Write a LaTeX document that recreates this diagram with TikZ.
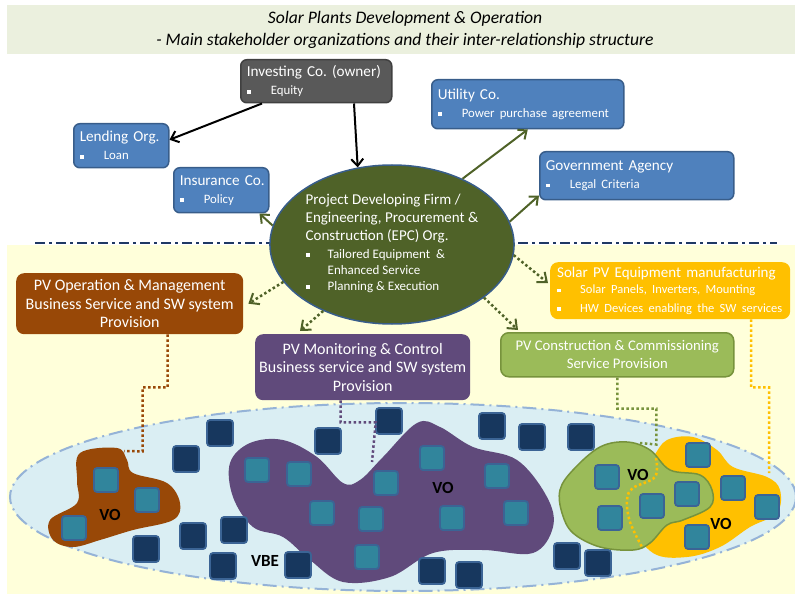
\documentclass[tikz,border=0pt]{standalone}
\usepackage{fontspec}
\setmainfont{Carlito}
\usetikzlibrary{arrows.meta,shapes.geometric,positioning}
\definecolor{bannerbg}{HTML}{EBF0DE}
\definecolor{lowbg}{HTML}{FFFFDA}
\definecolor{vbebg}{HTML}{DAEEF3}
\definecolor{vbeline}{HTML}{95B3D7}
\definecolor{boxblue}{HTML}{4F81BD}
\definecolor{boxline}{HTML}{385D8A}
\definecolor{ownergray}{HTML}{595959}
\definecolor{ownerline}{HTML}{404040}
\definecolor{epcgreen}{HTML}{4F6228}
\definecolor{ombrown}{HTML}{984807}
\definecolor{monpurple}{HTML}{604A7B}
\definecolor{mfgold}{HTML}{FFC000}
\definecolor{conslime}{HTML}{9BBB59}
\definecolor{consline}{HTML}{77933C}
\definecolor{memteal}{HTML}{31859C}
\definecolor{memnavy}{HTML}{17375E}
\definecolor{memline}{HTML}{3B6495}
\definecolor{sepblue}{HTML}{1F3864}
\frenchspacing
\newcommand{\sqb}{\rule[0.2ex]{0.3em}{0.3em}}
\newcommand{\bitem}[2][24pt]{\makebox[#1][l]{\sqb}#2}
\newcommand{\bulletfont}{\fontsize{12.8}{15}\selectfont}
\tikzset{
  orgbox/.style={draw=boxline, fill=boxblue, rounded corners=6pt, line width=1.5pt,
    text=white, align=left, anchor=north west, inner xsep=6pt, inner ysep=2pt,
    font=\fontsize{15.2}{18}\selectfont},
  svcbox/.style={rounded corners=8pt, text=white, align=center, anchor=north west,
    inner xsep=4pt, inner ysep=2pt, font=\fontsize{16}{18.5}\selectfont},
  solidarrow/.style={line width=2pt, -{Straight Barb[length=7pt,width=12pt,line width=2pt]}},
  dotarrow/.style={line width=2.5pt, epcgreen, dash pattern=on 2.5pt off 2.5pt,
    -{Straight Barb[length=8pt,width=13pt,line width=2pt]}},
  dotlink/.style={line width=2.5pt, dash pattern=on 2.5pt off 2.5pt},
  member/.style={draw=memline, line width=1.8pt, rounded corners=3pt, minimum size=24pt, inner sep=0pt},
  tealsq/.style={member, fill=memteal},
  navysq/.style={member, fill=memnavy, minimum size=26pt},
  volabel/.style={font=\fontsize{17}{17}\selectfont\bfseries}
}
\begin{document}
\begin{tikzpicture}[x=1pt,y=-1pt]
\useasboundingbox (0,0) rectangle (795,596);
%backgrounds
\fill[lowbg] (7,245) rectangle (795,594);
\fill[bannerbg] (7,5) rectangle (795,54);
\node[align=center, font=\fontsize{17.6}{22.5}\selectfont\itshape] (title) at (405,30)
  {Solar Plants Development \& Operation\\- Main stakeholder organizations and their inter-relationship structure};
\draw[sepblue, line width=2.5pt, dash pattern=on 10pt off 4pt on 3pt off 4pt] (35,243) -- (777,243);

%VBE and the VOs
\draw[vbeline, fill=vbebg, line width=2pt, dash pattern=on 14pt off 5pt on 2pt off 5pt] (403,497) ellipse [x radius=393, y radius=94];
\fill[mfgold] plot[smooth cycle, tension=0.6] coordinates {(653,457) (667,440) (693,437) (717,450) (733,467) (767,477) (780,490) (777,513) (750,527) (720,547) (687,557) (653,553) (630,520) (635,480)};
\draw[consline, fill=conslime, line width=1.5pt] plot[smooth cycle, tension=0.6] coordinates {(560,490) (573,470) (600,447) (627,442) (650,450) (670,470) (700,475) (712,490) (710,507) (683,520) (667,525) (650,543) (633,550) (600,547) (573,533) (562,513)};
\fill[ombrown] plot[smooth cycle, tension=0.6] coordinates {(80,453) (117,448) (127,460) (133,473) (167,483) (180,503) (173,520) (133,530) (100,540) (73,547) (53,540) (50,520) (77,503) (77,480)};
\fill[monpurple] plot[smooth cycle, tension=0.6] coordinates {(230,463) (250,443) (283,440) (317,457) (343,483) (360,480) (383,457) (417,423) (440,427) (473,447) (517,460) (547,497) (553,527) (533,553) (483,550) (433,553) (390,577) (343,582) (310,560) (283,537) (253,527) (233,497)};
\draw[mfgold, dotlink] plot[smooth, tension=0.6] coordinates {(656,458) (655,477) (633,488) (627,500) (630,522) (642,547)};
\foreach \x/\y [count=\i] in {220/433,186/459,146/549,193/536,234/530,223/566,298/565,328/441,389/421,432/571,469/575,492/426,532/437,581/437,567/556,598/563}
  \node[navysq] (free\i) at (\x,\y) {};
\foreach \x/\y [count=\i] in {106/480,147/500,74/528,257/470,299/474,386/483,432/458,497/476,322/513,371/519,452/518,516/513,367/557,607/477,610/518,652/506,687/494,698/455,733/488,767/507,697/537}
  \node[tealsq] (mem\i) at (\x,\y) {};
\node[volabel] (vo1) at (110,515) {VO};
\node[volabel] (vo2) at (443,488) {VO};
\node[volabel] (vo3) at (638,475) {VO};
\node[volabel] (vo4) at (721,524) {VO};
\node[volabel] (vbe) at (265,561) {VBE};

%stakeholders above the line
\node[orgbox, draw=ownerline, fill=ownergray, text width=139pt, minimum height=43pt] (owner) at (240,59)
  {Investing Co. (owner)\\{\bulletfont\bitem{Equity}}};
\node[orgbox, text width=87pt, inner xsep=4pt, minimum height=44pt] (lend) at (73,123)
  {\hspace*{2pt}Lending Org.\\\hspace*{2pt}{\bulletfont\bitem{Loan}}};
\node[orgbox, text width=89pt, inner xsep=3pt, minimum height=45pt] (insur) at (173,167)
  {\hspace*{3pt}Insurance Co.\\\hspace*{3pt}{\bulletfont\bitem{Policy}}};
\node[orgbox, text width=180pt, minimum height=49pt] (util) at (431,79)
  {Utility Co.\\{\bulletfont\bitem{Power purchase agreement}}};
\node[orgbox, text width=182pt, minimum height=48pt] (gov) at (539,151)
  {Government Agency\\{\bulletfont\bitem{Legal Criteria}}};
\node[ellipse, draw=boxline, fill=epcgreen, line width=1.5pt, minimum width=230pt, minimum height=159pt,
  inner sep=0pt, text=white, align=left, font=\fontsize{15}{18}\selectfont] (epc) at (392,244.5)
  {Project Developing Firm /\\Engineering, Procurement \&\\Construction (EPC) Org.\\[3pt]
   {\fontsize{13}{16}\selectfont\begin{tabular}{@{}l@{}l@{}}\makebox[22pt][l]{\sqb} & Tailored Equipment~ \&\\ & Enhanced Service\\ \sqb & Planning \& Execution\end{tabular}}};

%service providers below the line
\node[svcbox, fill=ombrown, minimum width=227pt, minimum height=61pt] (om) at (16,273)
  {PV Operation \& Management\\Business Service and SW system\\Provision};
\node[svcbox, fill=monpurple, minimum width=208pt, minimum height=66pt] (mon) at (255,334)
  {PV Monitoring \& Control\\Business service and SW system\\Provision};
\node[svcbox, fill=mfgold, align=left, text width=226pt, minimum height=57pt, inner xsep=7pt] (mfg) at (550,262)
  {\fontsize{15}{17}\selectfont Solar PV Equipment manufacturing\\{\fontsize{12.5}{16}\selectfont\bitem[23pt]{Solar Panels, Inverters, Mounting}\\\bitem[23pt]{HW Devices enabling the SW services}}};
\node[svcbox, draw=consline, line width=1.5pt, fill=conslime, minimum width=233pt, minimum height=44pt,
  font=\fontsize{14.7}{18}\selectfont] (cons) at (500,332)
  {PV Construction \& Commissioning\\Service Provision};

%relations
\draw[solidarrow] ([xshift=22pt]owner.south west) -- ([yshift=6pt]lend.east);
\draw[solidarrow] ([xshift=114pt]owner.south west) -- (epc.114);
\draw[solidarrow, epcgreen] (epc.171) -- ([xshift=-10pt]insur.south east);
\draw[solidarrow, epcgreen] (epc.43) -- (util.south);
\draw[solidarrow, epcgreen] (epc.11) -- ([yshift=5pt]gov.south west);
\draw[dotarrow] (epc.199) -- ([xshift=5pt]om.east);
\draw[dotarrow] (epc.224) -- ([xshift=45pt,yshift=3pt]mon.north west);
\draw[dotarrow] (epc.355) -- ([xshift=-2pt,yshift=-21pt]mfg.north west);
\draw[dotarrow] (epc.330) -- ([xshift=18pt,yshift=2pt]cons.north west);

%links down to the VOs
\coordinate (omvo) at (124,451);
\coordinate (monvo) at (372,462);
\coordinate (consvo) at (640,443);
\coordinate (mfgvo) at (769,473);
\draw[ombrown, dotlink] ([xshift=38pt]om.south) -- ++(0,53) -- ++(-25,0) -- ++(0,64) -- (omvo);
\draw[monpurple, dotlink] ([xshift=-22pt]mon.south) -- ++(0,22) -- ++(35,0) -- (monvo);
\draw[consline, dotlink] (cons.south) -- ++(0,31) -- ++(39,0) -- ++(0,36) -- (consvo);
\draw[mfgold, dotlink] ([xshift=81pt]mfg.south) -- ++(0,68) -- ++(18,0) -- (mfgvo);
\end{tikzpicture}
\end{document}
